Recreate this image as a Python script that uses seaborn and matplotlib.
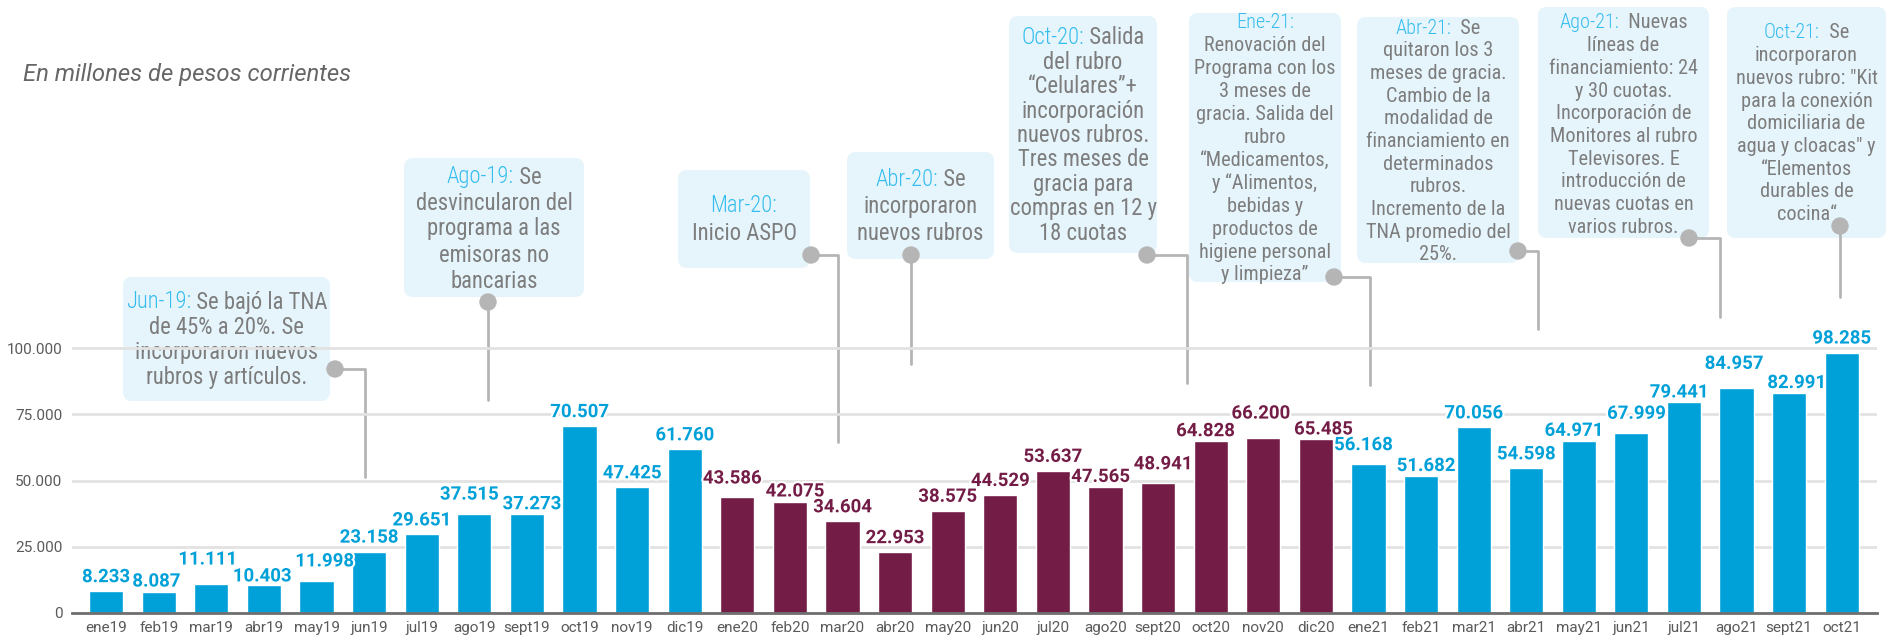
import matplotlib
matplotlib.use('Agg')
import numpy as np
import pandas as pd
import matplotlib.pyplot as plt
import matplotlib.patheffects as pe
import seaborn as sns
from matplotlib import font_manager
from matplotlib.patches import FancyBboxPatch, Circle
from matplotlib.lines import Line2D
from matplotlib.transforms import Affine2D, IdentityTransform

# -------------------------------
# data
# -------------------------------
months = ['ene19', 'feb19', 'mar19', 'abr19', 'may19', 'jun19', 'jul19', 'ago19', 'sept19', 'oct19', 'nov19', 'dic19',
          'ene20', 'feb20', 'mar20', 'abr20', 'may20', 'jun20', 'jul20', 'ago20', 'sept20', 'oct20', 'nov20', 'dic20',
          'ene21', 'feb21', 'mar21', 'abr21', 'may21', 'jun21', 'jul21', 'ago21', 'sept21', 'oct21']
amounts_2019 = [8233, 8087, 11111, 10403, 11998, 23158, 29651, 37515, 37273, 70507, 47425, 61760]
amounts_2020 = [43586, 42075, 34604, 22953, 38575, 44529, 53637, 47565, 48941, 64828, 66200, 65485]
amounts_2021 = [56168, 51682, 70056, 54598, 64971, 67999, 79441, 84957, 82991, 98285]
amounts = amounts_2019 + amounts_2020 + amounts_2021
periods = ['2019'] * len(amounts_2019) + ['2020'] * len(amounts_2020) + ['2021'] * len(amounts_2021)
y_ticks = [0, 25000, 50000, 75000, 100000]
subtitle = 'En millones de pesos corrientes'

BLUE = '#00a0d8'
MAROON = '#731c46'
BOX_FILL = '#e6f5fc'
HEAD_BLUE = '#35bdef'
NOTE_GREY = '#7d7d7d'
LEADER = '#b5b5b5'


def fmt(v):
    return f'{v:,.0f}'.replace(',', '.')


def has_font(name):
    try:
        font_manager.findfont(font_manager.FontProperties(family=name), fallback_to_default=False)
        return True
    except ValueError:
        return False


# -------------------------------
# figure
# -------------------------------
W, H = 1889, 638
sns.set_theme(style='white')
plt.rcParams['font.family'] = ['Roboto', 'DejaVu Sans']

COND = has_font('Roboto Condensed')
note_family = ['Roboto Condensed', 'Roboto', 'DejaVu Sans'] if COND else ['Roboto', 'DejaVu Sans']
FS_BIG = 16.3 if COND else 14.6
FS_SMALL = 14.6 if COND else 13.0

fig = plt.figure(figsize=(W / 100, H / 100), dpi=100)
fig.patch.set_facecolor('white')
ax = fig.add_axes([72 / W, 25 / H, (1877 - 72) / W, 613 / H])
ax.patch.set_alpha(0)

df = pd.DataFrame({'mes': months, 'monto': amounts, 'periodo': periods})
sns.barplot(data=df, x='mes', y='monto', hue='periodo',
            palette={'2019': BLUE, '2020': MAROON, '2021': BLUE},
            dodge=False, width=0.65, saturation=1, legend=False, ax=ax)

ax.set_xlim(-0.65, 33.67)
ax.set_ylim(0, 613 * 100000 / 265)
ax.set_yticks(y_ticks)
ax.set_yticklabels([fmt(v) for v in y_ticks])
ax.set_xlabel('')
ax.set_ylabel('')
ax.grid(axis='y', color='#e2e2e2', lw=2)
ax.grid(axis='x', visible=False)
ax.set_axisbelow(True)
for side in ['left', 'top', 'right']:
    ax.spines[side].set_visible(False)
ax.spines['bottom'].set_color('#6f6f6f')
ax.spines['bottom'].set_linewidth(2)
ax.tick_params(axis='both', length=0, labelsize=11, colors='#5a5a5a')
ax.tick_params(axis='y', pad=7)
ax.tick_params(axis='x', pad=6)

# -------------------------------
# value labels (stagger neighbours that collide)
# -------------------------------
fig.canvas.draw()
renderer = fig.canvas.get_renderer()
label_h = 15
prev = None  # dict with text, x, y, w, top, value
for i, v in enumerate(amounts):
    col = MAROON if periods[i] == '2020' else BLUE
    xc, ytop = ax.transData.transform((i, v))
    yc = ytop + 14
    t = ax.text(xc, yc, fmt(v), transform=IdentityTransform(), ha='center', va='center',
                fontsize=13.4, fontweight='bold', color=col, zorder=5,
                path_effects=[pe.withStroke(linewidth=3, foreground='white')])
    w = t.get_window_extent(renderer).width
    cur = {'t': t, 'x': xc, 'y': yc, 'w': w, 'top': ytop, 'v': v}
    if prev is not None and abs(yc - prev['y']) < label_h:
        ov = (prev['x'] + prev['w'] / 2) - (xc - w / 2)
        if ov > 0:
            s = min(ov / 2 + 2, 8)
            prev['x'] -= s
            cur['x'] += s
            hi, lo = (prev, cur) if prev['v'] >= v else (cur, prev)
            hi['y'] += 5
            lo['y'] = max(lo['y'] - 4, lo['top'] + 9)
            if ov / 2 + 2 > 8:
                hi['y'] = max(hi['y'], lo['y'] + label_h)
            prev['t'].set_position((prev['x'], prev['y']))
            t.set_position((cur['x'], cur['y']))
    prev = cur

# -------------------------------
# notes (reference pixel space, y down)
# -------------------------------
px = Affine2D().scale(1 / W, -1 / H).translate(0, 1) + fig.transFigure

fig.text(23, 75, subtitle, transform=px, ha='left', va='center', fontsize=17.2,
         style='italic', color='#666666')

notes = [
    # box (x0, y0, x1, y1), head, rest of first line, lines, first line y, spacing, font size, leader path
    ((123, 277, 330, 401), 'Jun-19:', ' Se bajó la TNA',
     ['de 45% a 20%. Se', 'incorporaron nuevos', 'rubros y artículos.'],
     302, 25.3, FS_BIG, [(335, 369), (365, 369), (365, 477)]),
    ((404, 158, 584, 297), 'Ago-19:', ' Se',
     ['desvincularon del', 'programa a las', 'emisoras no', 'bancarias'],
     177, 26.0, FS_BIG, [(488, 302), (488, 400)]),
    ((678, 170, 810, 268), 'Mar-20:', '',
     ['Inicio ASPO'],
     205, 28.0, FS_BIG, [(811, 255), (838, 255), (838, 442)]),
    ((847, 152, 994, 259), 'Abr-20:', ' Se',
     ['incorporaron', 'nuevos rubros'],
     180, 26.5, FS_BIG, [(911, 255), (911, 364)]),
    ((1009, 16, 1157, 253), 'Oct-20:', ' Salida',
     ['del rubro', '“Celulares”+', 'incorporación', 'nuevos rubros.', 'Tres meses de',
      'gracia para', 'compras en 12 y', '18 cuotas'],
     38, 24.4, FS_BIG, [(1147, 255), (1187, 255), (1187, 383)]),
    ((1189, 13, 1341, 282), 'Ene-21:', '',
     ['Renovación del', 'Programa con los', '3 meses de', 'gracia. Salida del', 'rubro',
      '“Medicamentos,', 'y “Alimentos,', 'bebidas y', 'productos de', 'higiene personal',
      'y limpieza”'],
     23, 22.9, FS_SMALL, [(1334, 277), (1370, 277), (1370, 385)]),
    ((1357, 17, 1519, 263), 'Abr-21:', '  Se',
     ['quitaron los 3', 'meses de gracia.', 'Cambio de la', 'modalidad de', 'financiamiento en',
      'determinados', 'rubros.', 'Incremento de la', 'TNA promedio del', '25%.'],
     28, 22.7, FS_SMALL, [(1518, 251), (1538, 251), (1538, 329)]),
    ((1538, 7, 1709, 238), 'Ago-21:', '  Nuevas',
     ['líneas de', 'financiamiento: 24', 'y 30 cuotas.', 'Incorporación de', 'Monitores al rubro',
      'Televisores. E', 'introducción de', 'nuevas cuotas en', 'varios rubros.'],
     23, 22.7, FS_SMALL, [(1689, 238), (1720, 238), (1720, 317)]),
    ((1727, 7, 1886, 238), 'Oct-21:', '  Se',
     ['incorporaron', 'nuevos rubro: "Kit', 'para la conexión', 'domiciliaria de',
      'agua y cloacas" y', '“Elementos', 'durables de', 'cocina“'],
     33, 22.7, FS_SMALL, [(1840, 226), (1840, 297)]),
]

for (x0, y0, x1, y1), head, first, lines, ly, step, fs, path in notes:
    box = FancyBboxPatch((x0, y0), x1 - x0, y1 - y0, boxstyle='round,pad=0,rounding_size=9',
                         transform=px, fc=BOX_FILL, ec='none', zorder=-2)
    fig.add_artist(box)
    cx = (x0 + x1) / 2
    th = fig.text(0, ly, head, transform=px, ha='left', va='center', fontsize=fs,
                  family=note_family, fontweight='light', color=HEAD_BLUE, zorder=-1)
    tf = fig.text(0, ly, first, transform=px, ha='left', va='center', fontsize=fs,
                  family=note_family, color=NOTE_GREY, zorder=-1)
    w1 = th.get_window_extent(renderer).width
    w2 = tf.get_window_extent(renderer).width if first else 0
    th.set_x(cx - (w1 + w2) / 2)
    tf.set_x(cx - (w1 + w2) / 2 + w1)
    for k, line in enumerate(lines, start=1):
        fig.text(cx, ly + k * step, line, transform=px, ha='center', va='center', fontsize=fs,
                 family=note_family, color=NOTE_GREY, zorder=-1)
    xs, ys = zip(*path)
    fig.add_artist(Line2D(xs, ys, transform=px, color=LEADER, lw=2, zorder=-1))
    fig.add_artist(Circle(path[0], 8, transform=px, color=LEADER, zorder=-1))

fig.savefig('out.png', dpi=100)
